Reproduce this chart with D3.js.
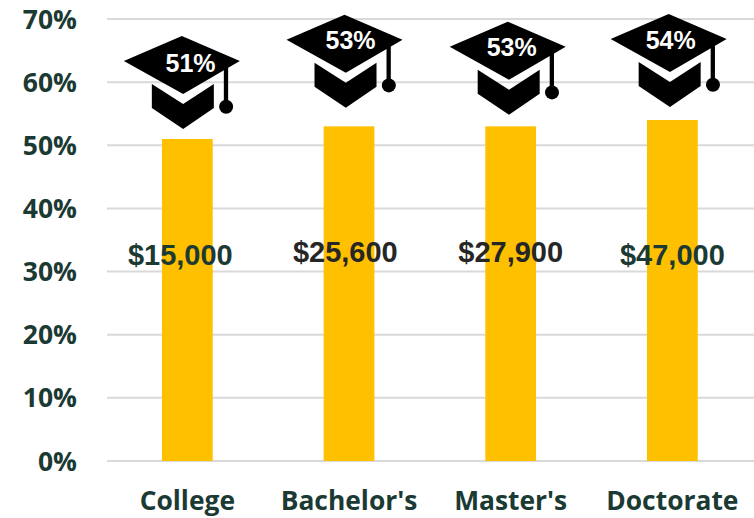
<!DOCTYPE html>
<html lang="en">
<head>
<meta charset="utf-8">
<title>Graduation rate and salary by degree</title>
<script src="https://cdn.jsdelivr.net/npm/d3@7"></script>
<style>
	html, body { margin: 0; background: #fff; }
	svg { display: block; }
	.axis-label { font-family: "Open Sans", sans-serif; font-weight: 700; fill: #1b3a33; }
	.money { font-family: "Liberation Sans", Arial, sans-serif; font-weight: 700; font-size: 29px; text-anchor: middle; }
	.pct { font-family: "Liberation Sans", Arial, sans-serif; font-weight: 700; font-size: 25px; fill: #fff; text-anchor: middle; }
</style>
</head>
<body>
<script>
var categories = ["College", "Bachelor's", "Master's", "Doctorate"];
var shares = [51, 53, 53, 54];
var salaries = ["$15,000", "$25,600", "$27,900", "$47,000"];
var yTicks = [0, 10, 20, 30, 40, 50, 60, 70];

var w = 754, h = 518;
var capDx = [-5.5, -4.5, -3, -3.7];
var capTop = [36, 14.7, 21.7, 14];
var pctDx = [8.7, 6, 4, 2];
var pctBase = [35.7, 34, 34, 35];
var moneyDx = [-7, -3.7, 0, 0];
var moneyY = [265, 261.5, 261.5, 265];
var moneyColor = ["#1b3a33", "#262626", "#262626", "#1b3a33"];

var x = d3.scaleBand().domain(categories).range([106.5, 753.2]).paddingInner(0.686).paddingOuter(0.343);
var y = d3.scaleLinear().domain([0, 70]).range([461, 19]);

var svg = d3.select("body").append("svg").attr("width", w).attr("height", h);

// gridlines
svg.selectAll(".grid").data(yTicks).enter().append("line")
	.attr("x1", 107).attr("x2", 754)
	.attr("y1", function (d) { return y(d); })
	.attr("y2", function (d) { return y(d); })
	.attr("stroke", "#d9d9d9").attr("stroke-width", 2);

svg.selectAll(".ylab").data(yTicks).enter().append("text")
	.attr("class", "axis-label")
	.attr("x", 77).attr("y", function (d) { return y(d) + 9.5; })
	.attr("text-anchor", "end").attr("font-size", 26.5)
	.text(function (d) { return d + "%"; });

svg.selectAll(".xlab").data(categories).enter().append("text")
	.attr("class", "axis-label")
	.attr("x", function (d) { return x(d) + x.bandwidth() / 2; })
	.attr("y", 510).attr("text-anchor", "middle").attr("font-size", 26.4)
	.text(function (d) { return d; });

svg.selectAll(".bar").data(shares).enter().append("rect")
	.attr("x", function (d, i) { return x(categories[i]); })
	.attr("y", function (d) { return y(d); })
	.attr("width", x.bandwidth())
	.attr("height", function (d) { return y(0) - y(d); })
	.attr("fill", "#ffc000");

// mortarboard icon, origin at top corner of the board
var caps = svg.selectAll(".cap").data(shares).enter().append("g")
	.attr("transform", function (d, i) {
		return "translate(" + (x(categories[i]) + x.bandwidth() / 2 + capDx[i]) + "," + capTop[i] + ")";
	});
caps.append("path").attr("d", "M0,0L58,25L1.3,58L-58,25Z").attr("fill", "#000");
caps.append("path").attr("d", "M-30,48L1.3,68L32,48V72L1.3,93L-30,72Z").attr("fill", "#000");
caps.append("path").attr("d", "M42,32L46.3,30V68H42Z").attr("fill", "#000");
caps.append("circle").attr("cx", 44.3).attr("cy", 70.7).attr("r", 7).attr("fill", "#000");
caps.append("text").attr("class", "pct")
	.attr("x", function (d, i) { return pctDx[i]; })
	.attr("y", function (d, i) { return pctBase[i]; })
	.text(function (d) { return d + "%"; });

svg.selectAll(".money").data(salaries).enter().append("text")
	.attr("class", "money")
	.attr("x", function (d, i) { return x(categories[i]) + x.bandwidth() / 2 + moneyDx[i]; })
	.attr("y", function (d, i) { return moneyY[i]; })
	.attr("fill", function (d, i) { return moneyColor[i]; })
	.text(function (d) { return d; });
</script>
</body>
</html>
